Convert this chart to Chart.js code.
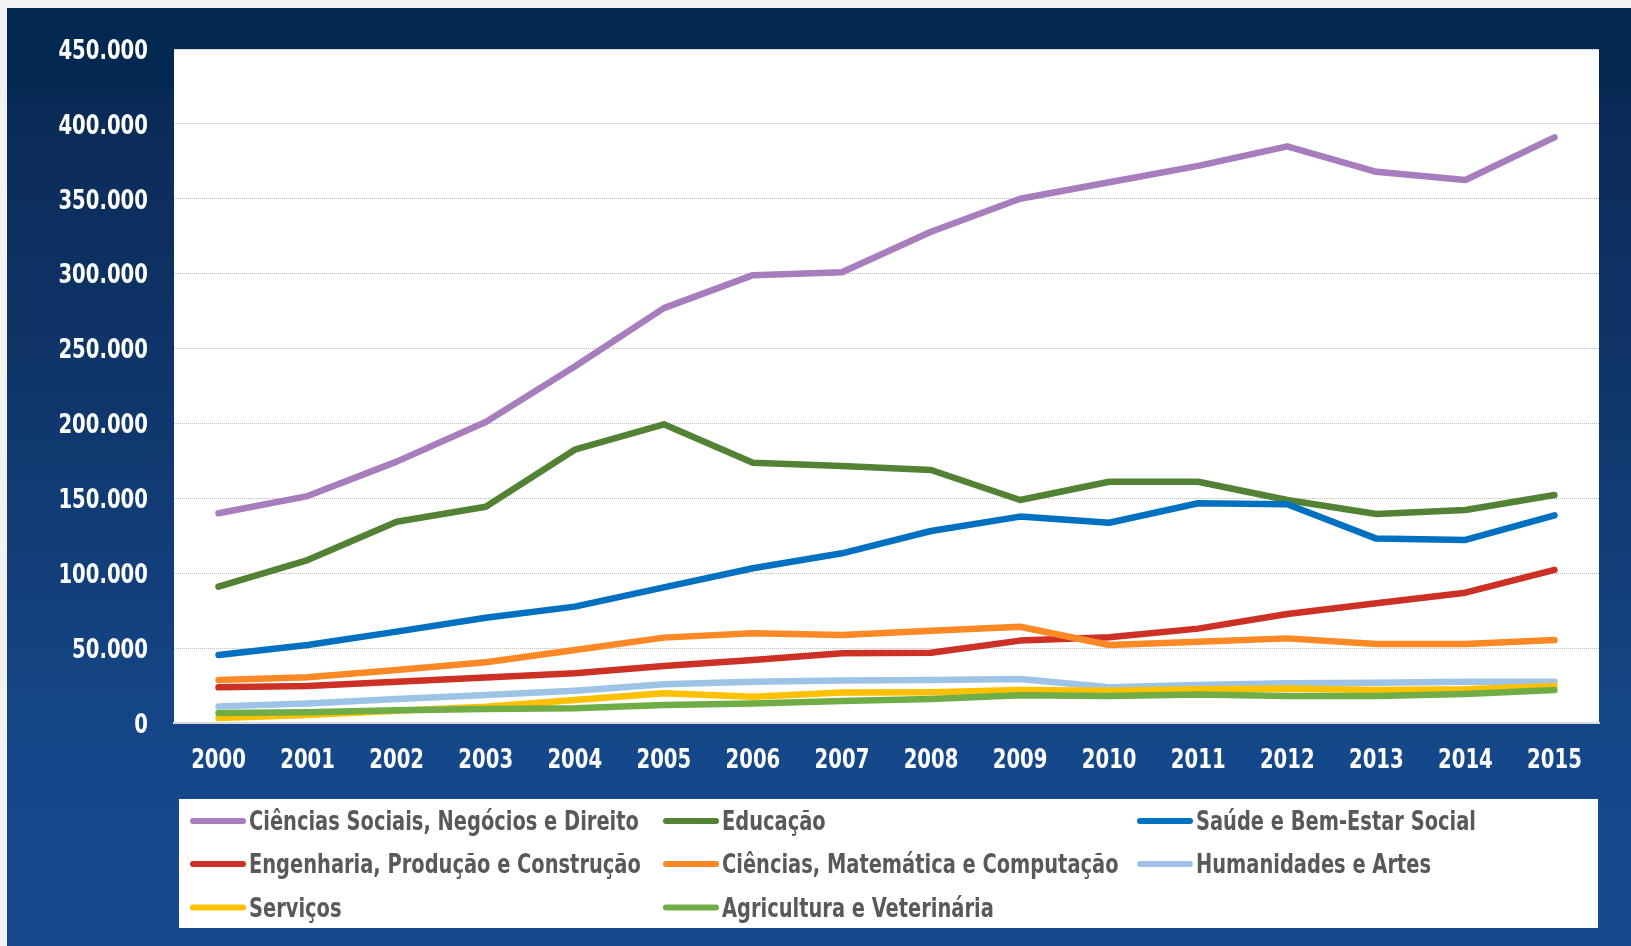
<!DOCTYPE html>
<html><head><meta charset="utf-8">
<script src="https://cdn.jsdelivr.net/npm/chart.js@4/dist/chart.umd.min.js"></script>
<style>html,body{margin:0;padding:0;background:#f2f2f2;overflow:hidden}#wrap{position:relative;width:1631px;height:946px}canvas{display:block}</style>
</head><body><div id="wrap"><canvas id="c" width="1631" height="946"></canvas></div>
<script>
const years = ['2000','2001','2002','2003','2004','2005','2006','2007','2008','2009','2010','2011','2012','2013','2014','2015'];
const seriesNames = ['Ciências Sociais, Negócios e Direito','Educação','Saúde e Bem-Estar Social','Engenharia, Produção e Construção','Ciências, Matemática e Computação','Humanidades e Artes','Serviços','Agricultura e Veterinária'];
const seriesColors = ['#A87DBD','#548235','#0070C0','#CD3125','#FD8826','#9DC3E6','#FFC000','#70AD47'];
const cienciasSociais = [140000,151500,174500,201000,238000,277000,299000,301000,328000,350000,361000,372000,385000,368000,362500,391000];
const educacao = [91000,108800,134400,144400,182500,199400,173800,171600,168900,148900,161100,161100,148900,139500,142200,152200];
const saude = [45400,52100,61000,70300,77700,90600,103300,113300,128200,137800,133700,146700,146000,123100,122200,138700];
const engenharia = [23800,24700,27600,30300,33200,38000,42100,46500,46900,55000,57200,63000,72800,79900,87000,102200];
const cienciasMat = [28700,30500,35400,40500,48700,57000,59900,58800,61600,64300,52100,54300,56500,52700,52700,55400];
const humanidades = [11100,13100,16000,18700,21600,25800,27600,28300,28700,29400,23800,25400,26500,26800,27600,27600];
const servicos = [3300,5300,8200,10900,15400,19800,17600,20300,20500,22000,21600,22500,23100,22000,22500,24700];
const agricultura = [6700,7100,8500,9300,9800,12000,13100,14700,16000,18500,18000,19100,18000,18000,19400,22000];
const yMin = 0, yMax = 450000, yStep = 50000;

const allSeries = [cienciasSociais,educacao,saude,engenharia,cienciasMat,humanidades,servicos,agricultura];
const FONT = "'DejaVu Sans Condensed','DejaVu Sans',sans-serif";
const SQUEEZE = 0.81;
const fmtY = v => v === 0 ? '0' : (v / 1000) + '.000';

function squeezedText(ctx, text, x, y, align, sx) {
  ctx.save();
  ctx.translate(x, y);
  ctx.scale(sx, 1);
  ctx.textAlign = align;
  ctx.textBaseline = 'alphabetic';
  ctx.fillText(text, 0, 0);
  ctx.restore();
}

const bgPlugin = {
  id: 'bg',
  beforeDraw(chart) {
    const ctx = chart.ctx, W = chart.width, H = chart.height;
    ctx.save();
    ctx.fillStyle = '#f2f2f2';
    ctx.fillRect(0, 0, W, H);
    const g = ctx.createLinearGradient(0, 8, 0, H);
    g.addColorStop(0, '#002850');
    g.addColorStop(0.08, '#002850');
    g.addColorStop(0.1, '#0b2a57');
    g.addColorStop(0.45, '#10386e');
    g.addColorStop(0.8, '#15488a');
    g.addColorStop(1, '#164a8c');
    ctx.fillStyle = g;
    ctx.fillRect(7, 8, W - 7, H - 8);
    const a = chart.chartArea;
    ctx.fillStyle = '#ffffff';
    ctx.fillRect(a.left, a.top, a.right - a.left, a.bottom - a.top);
    ctx.restore();
  }
};

const tickPlugin = {
  id: 'squeezedTicks',
  afterDraw(chart) {
    const ctx = chart.ctx;
    ctx.save();
    ctx.fillStyle = '#ffffff';
    ctx.font = 'bold 27px ' + FONT;
    const ys = chart.scales.y;
    ys.ticks.forEach(t => {
      const y = ys.getPixelForValue(t.value);
      squeezedText(ctx, fmtY(t.value), chart.chartArea.left - 26, y + 9.8, 'right', SQUEEZE);
    });
    const xs = chart.scales.x;
    xs.ticks.forEach((t, i) => {
      const x = xs.getPixelForTick(i);
      squeezedText(ctx, xs.getLabelForValue(t.value), x, chart.chartArea.bottom + 45, 'center', SQUEEZE);
    });
    ctx.restore();
  }
};

const legendPlugin = {
  id: 'gridLegend',
  afterDraw(chart) {
    const ctx = chart.ctx;
    ctx.save();
    ctx.fillStyle = '#ffffff';
    ctx.fillRect(179, 799, 1419, 129);
    const colX = [190, 663, 1137];
    const rowBase = [830, 873, 917];
    const rowMid = [821, 864, 907.5];
    ctx.font = 'bold 27px ' + FONT;
    chart.data.datasets.forEach((ds, i) => {
      const c = i % 3, r = Math.floor(i / 3);
      ctx.strokeStyle = ds.borderColor;
      ctx.lineWidth = 6;
      ctx.lineCap = 'round';
      ctx.beginPath();
      ctx.moveTo(colX[c] + 3, rowMid[r]);
      ctx.lineTo(colX[c] + 53, rowMid[r]);
      ctx.stroke();
      ctx.fillStyle = '#595959';
      squeezedText(ctx, ds.label, colX[c] + 59, rowBase[r], 'left', 0.8);
    });
    ctx.restore();
  }
};

const datasets = allSeries.map((d, i) => ({
  label: seriesNames[i],
  data: d,
  borderColor: seriesColors[i],
  backgroundColor: seriesColors[i],
  borderWidth: 6.5,
  borderCapStyle: 'round',
  borderJoinStyle: 'round',
  pointRadius: 0,
  pointHoverRadius: 0,
  tension: 0,
  fill: false,
  order: allSeries.length - i
}));

new Chart(document.getElementById('c'), {
  type: 'line',
  data: { labels: years, datasets },
  plugins: [bgPlugin, tickPlugin, legendPlugin],
  options: {
    responsive: false,
    devicePixelRatio: 1,
    animation: false,
    layout: { padding: { top: 49, right: 32, left: 0, bottom: 0 } },
    plugins: { legend: { display: false }, tooltip: { enabled: false }, title: { display: false } },
    scales: {
      x: {
        type: 'category',
        offset: true,
        grid: { display: false, drawTicks: false },
        border: { display: true, color: '#d9d9d9', width: 2 },
        ticks: { display: false },
        afterFit(s) { s.height = 223; }
      },
      y: {
        min: yMin, max: yMax,
        grid: { color: '#bdbdbd', lineWidth: 1, drawTicks: false },
        border: { display: false, dash: [1, 1] },
        ticks: { display: false, stepSize: yStep, callback: fmtY },
        afterFit(s) { s.width = 174; }
      }
    }
  }
});
</script>
</body></html>
